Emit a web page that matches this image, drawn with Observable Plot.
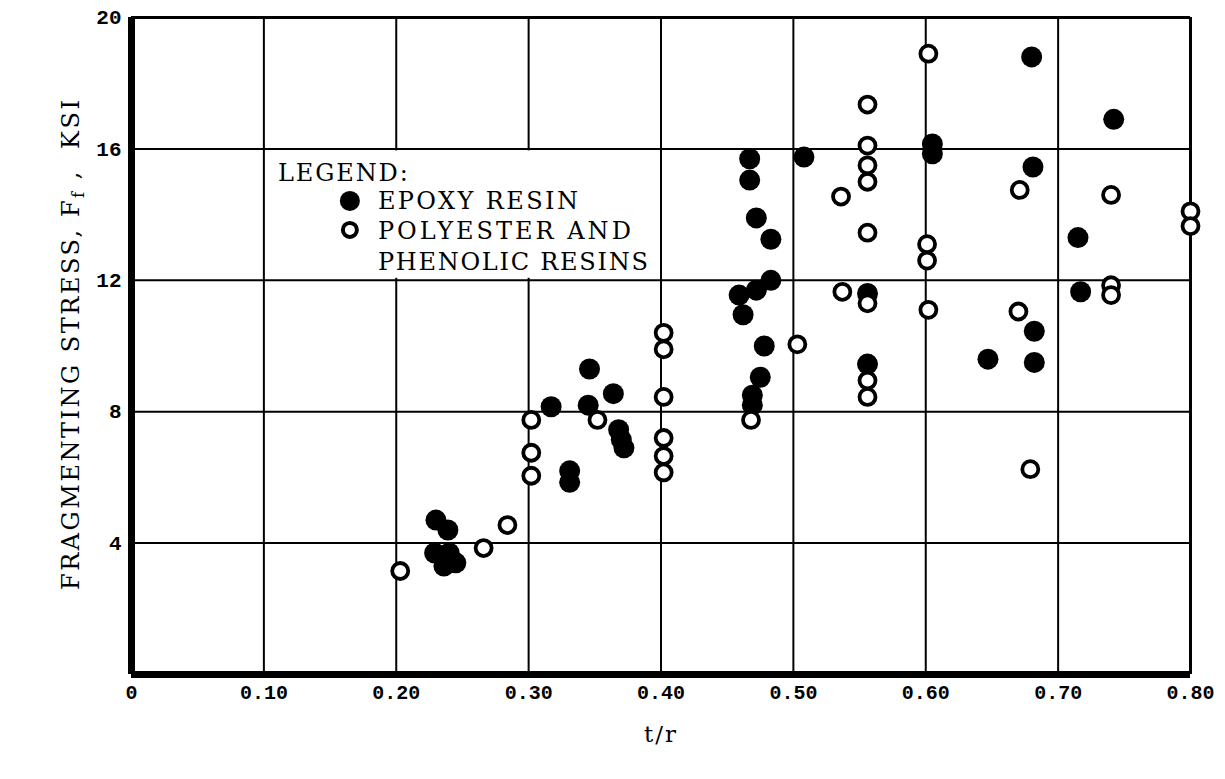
<!DOCTYPE html>
<html><head><meta charset="utf-8">
<script src="https://cdn.jsdelivr.net/npm/d3@7"></script>
<script src="https://cdn.jsdelivr.net/npm/@observablehq/plot@0.6"></script>
<style>
body{margin:0;background:#fff;}
</style>
</head><body><div id="chart"></div>
<script>
// t/r values and fragmenting stress (ksi) — epoxy resin (filled dots)
const epoxyT = [0.230,0.239,0.229,0.236,0.245,0.240,
  0.317,0.331,0.331,0.345,0.346,0.364,0.368,0.370,0.372,
  0.459,0.462,0.467,0.467,0.472,0.472,0.483,0.483,0.478,0.475,0.469,0.469,
  0.508,0.556,0.556,0.605,0.605,0.647,0.680,0.681,0.682,0.682,0.715,0.717,0.742];
const epoxyF = [4.7,4.4,3.7,3.3,3.4,3.7,
  8.15,6.2,5.85,8.2,9.3,8.55,7.45,7.15,6.9,
  11.55,10.95,15.7,15.05,13.9,11.7,13.25,12.0,10.0,9.05,8.5,8.2,
  15.75,11.6,9.45,16.15,15.85,9.6,18.8,15.45,10.45,9.5,13.3,11.65,16.9];
// polyester and phenolic resins (open circles)
const polyT = [0.203,0.266,0.284,0.302,0.302,0.302,0.352,
  0.402,0.402,0.402,0.402,0.402,0.402,0.468,0.503,0.536,0.537,
  0.556,0.556,0.556,0.556,0.556,0.556,0.556,0.556,
  0.602,0.601,0.601,0.602,0.671,0.670,0.679,0.740,0.740,0.740,0.800,0.800];
const polyF = [3.15,3.85,4.55,7.75,6.75,6.05,7.75,
  10.4,9.9,8.45,7.2,6.65,6.15,7.75,10.05,14.55,11.65,
  17.35,16.1,15.5,15.0,13.45,11.3,8.95,8.45,
  18.9,13.1,12.6,11.1,14.75,11.05,6.25,14.6,11.85,11.55,14.1,13.65];
const xTicks = [0,0.10,0.20,0.30,0.40,0.50,0.60,0.70,0.80];
const yTicks = [4,8,12,16,20];
const legendTitle = "LEGEND:";
const legendLabels = ["EPOXY RESIN","POLYESTER AND","PHENOLIC RESINS"];
const yLabelMain = "FRAGMENTING STRESS, F";
const yLabelSub = "f";
const yLabelTail = " ,  KSI";
const xLabel = "t/r";

const epoxy = epoxyT.map((t,i)=>({t, f: epoxyF[i]}));
const poly = polyT.map((t,i)=>({t, f: polyF[i]}));
const gridX = xTicks.filter(v => v > 0 && v < 0.8);
const gridY = yTicks.filter(v => v < 20);
const box = {x1: xTicks[1], x2: xTicks[4], y1: yTicks[2], y2: yTicks[3]};
const ax = () => box.x1, ay = () => box.y2;

const serif = "DejaVu Serif";
const legendText = (label, dx, dy) => Plot.text([label], {x: ax, y: ay, text: d => d, dx, dy, textAnchor: "start", fontFamily: serif, fontSize: 24});
const plot = Plot.plot({
  width: 1225, height: 779,
  marginLeft: 131, marginRight: 35, marginTop: 17, marginBottom: 105,
  x: {domain: [0, 0.8]},
  y: {domain: [0, 20]},
  style: {background: "#fff", color: "#000", fontFamily: "Liberation Mono", fontSize: "20px"},
  marks: [
    Plot.ruleX(gridX, {stroke: "#000", strokeWidth: 2}),
    Plot.ruleY(gridY, {stroke: "#000", strokeWidth: 2}),
    Plot.rect([box], {x1: "x1", x2: "x2", y1: "y1", y2: "y2", fill: "#fff", inset: 2}),
    Plot.ruleY([20], {stroke: "#000", strokeWidth: 3}),
    Plot.ruleX([0.8], {stroke: "#000", strokeWidth: 3}),
    Plot.ruleX([0], {stroke: "#000", strokeWidth: 7, y1: 0, y2: 20}),
    Plot.ruleY([0], {stroke: "#000", strokeWidth: 7, x1: 0, x2: 0.8}),
    Plot.axisX({ticks: xTicks, tickFormat: d => d === 0 ? "0" : d.toFixed(2), tickSize: 0, tickPadding: 10, label: null, fontSize: 20, fontWeight: "bold"}),
    Plot.axisY({ticks: yTicks, tickSize: 0, tickPadding: 10, label: null, fontSize: 21, fontWeight: "bold"}),
    Plot.dot(epoxy, {x: "t", y: "f", r: 10.5, fill: "#000", stroke: "none"}),
    Plot.dot(poly, {x: "t", y: "f", r: 8, fill: "#fff", stroke: "#000", strokeWidth: 3.8}),
    // legend
    legendText(legendTitle, 14, 24),
    Plot.dot([legendLabels[0]], {x: ax, y: ay, dx: 86, dy: 52, r: 10, fill: "#000"}),
    Plot.dot([legendLabels[1]], {x: ax, y: ay, dx: 86, dy: 81, r: 7, fill: "#fff", stroke: "#000", strokeWidth: 4}),
    legendText(legendLabels[0], 114, 52),
    legendText(legendLabels[1], 114, 82),
    legendText(legendLabels[2], 114, 113)
  ]
});

const svg = d3.select(plot);
const widths = {"LEGEND:": 130, "EPOXY RESIN": 200, "POLYESTER AND": 253, "PHENOLIC RESINS": 270};
svg.selectAll("text").each(function() {
  const w = widths[this.textContent];
  if (w) d3.select(this).attr("textLength", w).attr("lengthAdjust", "spacing");
});
const yl = svg.append("text")
  .attr("transform", "translate(72,345) rotate(-90)")
  .attr("text-anchor", "middle")
  .attr("dominant-baseline", "middle")
  .attr("font-family", serif)
  .attr("font-size", 24)
  .attr("textLength", 490)
  .attr("lengthAdjust", "spacing")
  .attr("fill", "#000");
yl.append("tspan").text(yLabelMain);
yl.append("tspan").attr("font-size", 16).attr("dy", 7).text(yLabelSub);
yl.append("tspan").attr("dy", -7).text(yLabelTail);
svg.append("text")
  .attr("x", 661).attr("y", 742)
  .attr("text-anchor", "middle")
  .attr("font-family", serif)
  .attr("font-size", 23)
  .attr("letter-spacing", 2)
  .attr("fill", "#000")
  .text(xLabel);

document.getElementById("chart").appendChild(plot);
</script>
</body></html>
